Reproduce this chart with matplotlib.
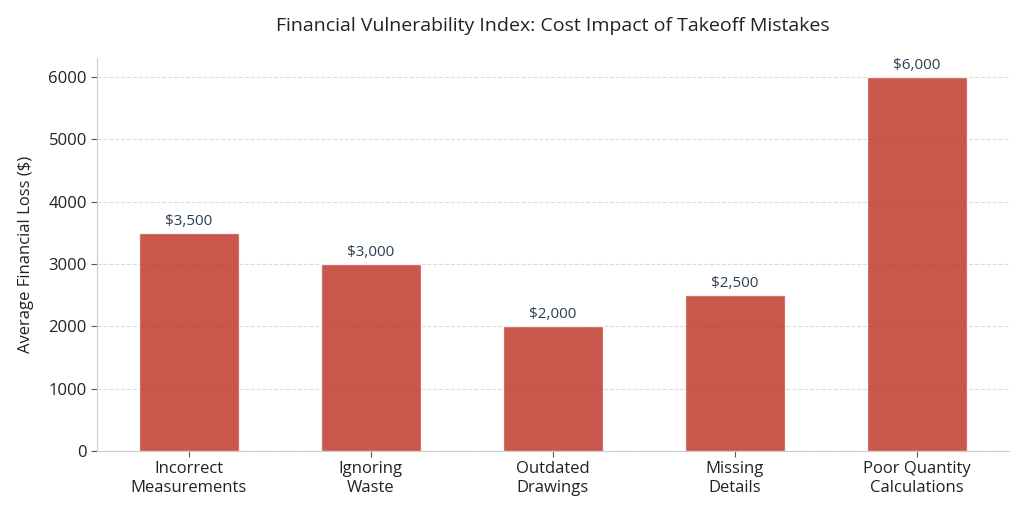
import matplotlib
matplotlib.use("Agg")
import matplotlib.pyplot as plt

categories = ["Incorrect\nMeasurements", "Ignoring\nWaste", "Outdated\nDrawings",
              "Missing\nDetails", "Poor Quantity\nCalculations"]
losses = [3500, 3000, 2000, 2500, 6000]
value_labels = ["$3,500", "$3,000", "$2,000", "$2,500", "$6,000"]

plt.rcParams['font.family'] = ['Open Sans', 'DejaVu Sans']

fig, ax = plt.subplots(figsize=(10.24, 5.12), dpi=100)
bars = ax.bar(range(len(categories)), losses, width=0.55, color="#c0392b", alpha=0.85,
              edgecolor="white", linewidth=1, zorder=3)
for b, lab in zip(bars, value_labels):
    ax.text(b.get_x() + b.get_width() / 2, b.get_height() + 70, lab,
            ha="center", va="bottom", fontsize=11, color="#2c3e50")

ax.set_xticks(range(len(categories)))
ax.set_xticklabels(categories, fontsize=12, color="#222222", linespacing=1.2)
ax.tick_params(axis="y", labelsize=12, labelcolor="#222222")
ax.tick_params(color="#555555", length=4)
ax.set_ylabel("Average Financial Loss ($)", fontsize=12, color="#222222", labelpad=10)
ax.set_title("Financial Vulnerability Index: Cost Impact of Takeoff Mistakes",
             fontsize=14, color="#222222", pad=20)
ax.yaxis.grid(True, linestyle="--", color="#dddddd", linewidth=0.8, zorder=0)
ax.set_axisbelow(True)
for s in ["top", "right"]:
    ax.spines[s].set_visible(False)
for s in ["left", "bottom"]:
    ax.spines[s].set_color("#cccccc")

fig.subplots_adjust(left=0.095, right=0.985, top=0.886, bottom=0.119)
fig.savefig("out.png", dpi=100)
